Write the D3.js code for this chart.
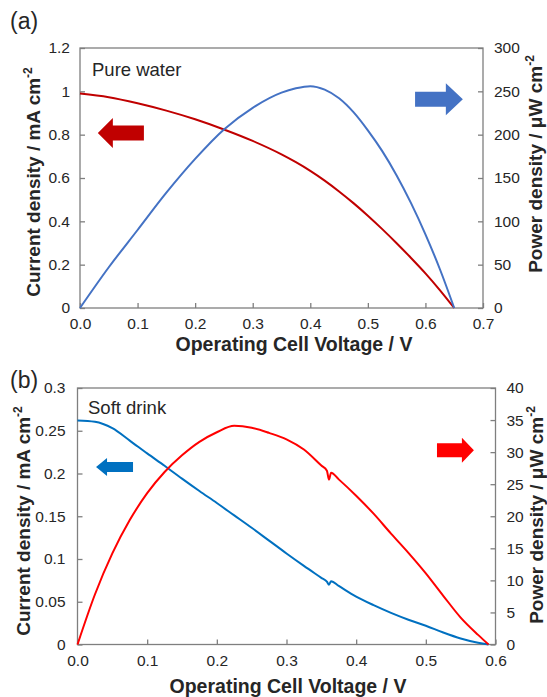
<!DOCTYPE html>
<html>
<head>
<meta charset="utf-8">
<script src="https://cdn.jsdelivr.net/npm/d3@7"></script>
<style>
	body { margin: 0; background: #fff; }
	svg { display: block; font-family: "Liberation Sans", Arial, sans-serif; }
</style>
</head>
<body>
<div class="canvas"></div>
<script>
// (a) pure water
const voltageA = [0, 0.05, 0.1, 0.15, 0.2, 0.25, 0.3, 0.35, 0.375, 0.4, 0.425, 0.45, 0.475, 0.5, 0.525, 0.55, 0.575, 0.6, 0.625, 0.65];
const currentA = [0.99, 0.973, 0.945, 0.911, 0.871, 0.824, 0.771, 0.709, 0.673, 0.633, 0.588, 0.538, 0.484, 0.426, 0.364, 0.299, 0.231, 0.160, 0.083, 0];
const powerA = [0, 47, 90, 133, 172, 206, 231, 248.5, 253.5, 256, 252, 242, 226, 205, 181, 153, 121, 85, 45, 0];

// (b) soft drink
const voltageB = [0, 0.025, 0.05, 0.075, 0.1, 0.125, 0.15, 0.175, 0.2, 0.225, 0.25, 0.275, 0.3, 0.325, 0.35, 0.358, 0.361, 0.364, 0.375, 0.4, 0.425, 0.45, 0.475, 0.5, 0.525, 0.55, 0.575, 0.59];
const currentB = [0.262, 0.2605, 0.253, 0.2385, 0.2235, 0.209, 0.194, 0.1795, 0.1655, 0.151, 0.1365, 0.1215, 0.1065, 0.092, 0.078, 0.0735, 0.0700, 0.0740, 0.0685, 0.056, 0.046, 0.037, 0.029, 0.022, 0.014, 0.007, 0.002, 0];
const powerB = [0, 7.8, 14.2, 19.4, 23.6, 26.9, 29.5, 31.6, 33.1, 34.1, 33.8, 33.0, 32.0, 30.4, 27.9, 27.1, 25.7, 26.8, 25.75, 23.2, 20.4, 17.3, 14.3, 11.1, 7.6, 4.2, 1.5, 0];

// tick labels
const xTicksA = [0, 0.1, 0.2, 0.3, 0.4, 0.5, 0.6, 0.7];
const leftTicksA = [0, 0.2, 0.4, 0.6, 0.8, 1, 1.2];
const rightTicksA = [0, 50, 100, 150, 200, 250, 300];
const xTicksB = [0, 0.1, 0.2, 0.3, 0.4, 0.5, 0.6];
const leftTicksB = [0, 0.05, 0.1, 0.15, 0.2, 0.25, 0.3];
const rightTicksB = [0, 5, 10, 15, 20, 25, 30, 35, 40];

const svg = d3.select('.canvas').append('svg')
	.attr('width', 547)
	.attr('height', 697);

const axisGrey = '#7f7f7f';
const textCol = '#262626';

const panels = [
	{
		tag: '(a)', tagPos: [10, 29], name: 'Pure water', namePos: [92, 76],
		box: { x: 80, y: 48, w: 403, h: 260 },
		xMax: 0.7, yMax: 1.2, y2Max: 300,
		xTicks: xTicksA, yTicks: leftTicksA, y2Ticks: rightTicksA,
		pad: 10,
		voltage: voltageA, current: currentA, power: powerA,
		curCol: '#c00000', powCol: '#4472c4',
		xTitle: [294, 351], yTitle: [40, 182], y2Title: [542, 164],
		curArrow: { tip: 0.031, tail: 0.111, v: 0.808, shaft: 15, head: 30, len: 15 },
		powArrow: { tip: 0.665, tail: 0.582, v: 241, shaft: 15, head: 32, len: 17 }
	},
	{
		tag: '(b)', tagPos: [10, 388], name: 'Soft drink', namePos: [88, 414],
		box: { x: 77.5, y: 388, w: 418, h: 256.5 },
		xMax: 0.6, yMax: 0.3, y2Max: 40,
		xTicks: xTicksB, yTicks: leftTicksB, y2Ticks: rightTicksB,
		pad: 12,
		voltage: voltageB, current: currentB, power: powerB,
		curCol: '#0070c0', powCol: '#ff0000',
		xTitle: [288, 693], yTitle: [30, 521], y2Title: [543, 515],
		curArrow: { tip: 0.0266, tail: 0.0797, v: 0.2076, shaft: 10, head: 18, len: 11 },
		powArrow: { tip: 0.569, tail: 0.516, v: 30.3, shaft: 14, head: 25, len: 12 }
	}
];

// draws a block arrow from tail to tip along a horizontal line
const arrowPath = (x0, x1, y, shaft, head, len) => {
	const dir = x1 > x0 ? 1 : -1;
	const xb = x1 - dir * len;
	return `M${x0},${y - shaft / 2} L${xb},${y - shaft / 2} L${xb},${y - head / 2} L${x1},${y}` +
		` L${xb},${y + head / 2} L${xb},${y + shaft / 2} L${x0},${y + shaft / 2} Z`;
};

const drawPanel = (p) => {
	const b = p.box;
	const graph = svg.append('g')
		.attr('transform', `translate(${b.x}, ${b.y})`);

	const x = d3.scaleLinear().domain([0, p.xMax]).range([0, b.w]);
	const y = d3.scaleLinear().domain([0, p.yMax]).range([b.h, 0]);
	const y2 = d3.scaleLinear().domain([0, p.y2Max]).range([b.h, 0]);

	// axes, ticks pointing into the plot
	const xAxis = d3.axisBottom(x).tickValues(p.xTicks).tickFormat(d3.format('.1f'))
		.tickSizeInner(-5).tickSizeOuter(0).tickPadding(10);
	const yAxis = d3.axisLeft(y).tickValues(p.yTicks).tickFormat(d3.format(''))
		.tickSizeInner(-5).tickSizeOuter(0).tickPadding(p.pad);
	const y2Axis = d3.axisRight(y2).tickValues(p.y2Ticks)
		.tickSizeInner(-5).tickSizeOuter(0).tickPadding(11);

	const gx = graph.append('g').attr('transform', `translate(0, ${b.h})`).call(xAxis);
	const gy = graph.append('g').call(yAxis);
	const gy2 = graph.append('g').attr('transform', `translate(${b.w}, 0)`).call(y2Axis);

	[gx, gy, gy2].forEach(g => {
		g.select('.domain').remove();
		g.selectAll('line').attr('stroke', axisGrey).attr('stroke-width', 1.3);
		g.selectAll('text')
			.attr('fill', textCol)
			.style('font-size', '15.5px')
			.style('font-family', '"Liberation Sans", Arial, sans-serif');
	});

	// frame
	graph.append('rect')
		.attr('width', b.w)
		.attr('height', b.h)
		.attr('fill', 'none')
		.attr('stroke', axisGrey)
		.attr('stroke-width', 1.3);

	// lines
	const pts = p.voltage.map((v, i) => ({ v, c: p.current[i], w: p.power[i] }));

	const curLine = d3.line().x(d => x(d.v)).y(d => y(d.c)).curve(d3.curveMonotoneX);
	const powLine = d3.line().x(d => x(d.v)).y(d => y2(d.w)).curve(d3.curveMonotoneX);

	graph.append('path')
		.attr('d', curLine(pts))
		.attr('fill', 'none')
		.attr('stroke', p.curCol)
		.attr('stroke-width', 2);

	graph.append('path')
		.attr('d', powLine(pts))
		.attr('fill', 'none')
		.attr('stroke', p.powCol)
		.attr('stroke-width', 2);

	// arrows
	const ca = p.curArrow;
	graph.append('path')
		.attr('d', arrowPath(x(ca.tail), x(ca.tip), y(ca.v), ca.shaft, ca.head, ca.len))
		.attr('fill', p.curCol);

	const pa = p.powArrow;
	graph.append('path')
		.attr('d', arrowPath(x(pa.tail), x(pa.tip), y2(pa.v), pa.shaft, pa.head, pa.len))
		.attr('fill', p.powCol);

	// labels
	svg.append('text')
		.attr('x', p.tagPos[0]).attr('y', p.tagPos[1])
		.attr('fill', textCol)
		.style('font-size', '23px')
		.text(p.tag);

	svg.append('text')
		.attr('x', p.namePos[0]).attr('y', p.namePos[1])
		.attr('fill', textCol)
		.style('font-size', '18.5px')
		.text(p.name);

	svg.append('text')
		.attr('x', p.xTitle[0]).attr('y', p.xTitle[1])
		.attr('text-anchor', 'middle')
		.attr('fill', textCol)
		.style('font-size', '19.5px')
		.style('font-weight', 'bold')
		.text('Operating Cell Voltage / V');

	const yt = svg.append('text')
		.attr('transform', `translate(${p.yTitle[0]}, ${p.yTitle[1]}) rotate(-90)`)
		.attr('text-anchor', 'middle')
		.attr('fill', textCol)
		.style('font-size', '19px')
		.style('font-weight', 'bold');
	yt.append('tspan').text('Current density / mA cm');
	yt.append('tspan').attr('dy', -8).style('font-size', '12px').text('-2');

	const y2t = svg.append('text')
		.attr('transform', `translate(${p.y2Title[0]}, ${p.y2Title[1]}) rotate(-90)`)
		.attr('text-anchor', 'middle')
		.attr('fill', textCol)
		.style('font-size', '19px')
		.style('font-weight', 'bold');
	y2t.append('tspan').text('Power density / μW cm');
	y2t.append('tspan').attr('dy', -8).style('font-size', '12px').text('-2');
};

panels.forEach(drawPanel);
</script>
</body>
</html>
